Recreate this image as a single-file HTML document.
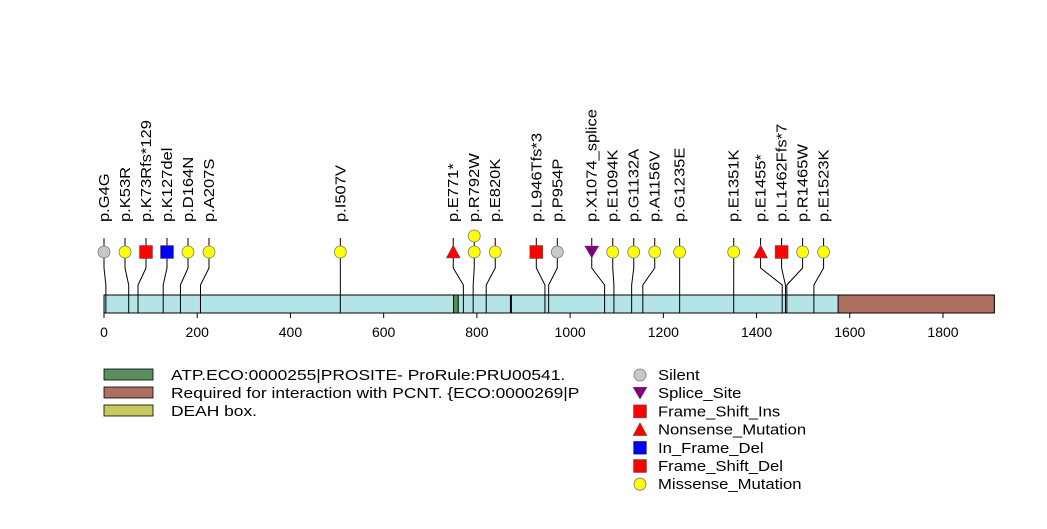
<!DOCTYPE html>
<html><head><meta charset="utf-8"><style>
body{margin:0;background:#fff}
svg text{font-family:"Liberation Sans",sans-serif}
</style></head><body>
<svg id="c" width="1047" height="524" viewBox="0 0 1047 524" xmlns="http://www.w3.org/2000/svg"></svg>
<script>
const positions=[4,53,73,127,164,207,507,771,792,820,946,954,1074,1094,1132,1156,1235,1351,1455,1462,1465,1523];
const labels=["p.G4G","p.K53R","p.K73Rfs*129","p.K127del","p.D164N","p.A207S","p.I507V","p.E771*","p.R792W","p.E820K","p.L946Tfs*3","p.P954P","p.X1074_splice","p.E1094K","p.G1132A","p.A1156V","p.G1235E","p.E1351K","p.E1455*","p.L1462Ffs*7","p.R1465W","p.E1523K"];
const types=["Silent","Missense_Mutation","Frame_Shift_Ins","In_Frame_Del","Missense_Mutation","Missense_Mutation","Missense_Mutation","Nonsense_Mutation","Missense_Mutation","Missense_Mutation","Frame_Shift_Ins","Silent","Splice_Site","Missense_Mutation","Missense_Mutation","Missense_Mutation","Missense_Mutation","Missense_Mutation","Nonsense_Mutation","Frame_Shift_Del","Missense_Mutation","Missense_Mutation"];
const counts=[1,1,1,1,1,1,1,1,2,1,1,1,1,1,1,1,1,1,1,1,1,1];
const proteinLength=1910;
const domainStarts=[750,1575];
const domainEnds=[760,1910];
const domainColors=["#5a8f5f","#b07060"];
const ticks=[0,200,400,600,800,1000,1200,1400,1600,1800];
const legendDomains=["ATP.ECO:0000255|PROSITE- ProRule:PRU00541.","Required for interaction with PCNT. {ECO:0000269|P","DEAH box."];
const legendDomainColors=["#5a8f5f","#b07060","#c8c860"];
const legendTypes=["Silent","Splice_Site","Frame_Shift_Ins","Nonsense_Mutation","In_Frame_Del","Frame_Shift_Del","Missense_Mutation"];

const NS="http://www.w3.org/2000/svg";
const svg=document.getElementById('c');
const x0=104,pxPerAA=(943-104)/1800;
const sx=a=>x0+a*pxPerAA;
function el(t,a,p){const e=document.createElementNS(NS,t);for(const k in a)e.setAttribute(k,a[k]);(p||svg).appendChild(e);return e;}
const colors={Silent:"#c8c8c8",Splice_Site:"#800080",Frame_Shift_Ins:"#ff0000",Nonsense_Mutation:"#ff0000",In_Frame_Del:"#0000ff",Frame_Shift_Del:"#ff0000",Missense_Mutation:"#ffff00"};
function marker(type,x,y,parent){
  let e;
  const c=colors[type];
  if(type==="Silent"||type==="Missense_Mutation") e=el('circle',{cx:x,cy:y,r:6,fill:c,stroke:"#777","stroke-width":0.8},parent);
  else if(type==="Splice_Site") e=el('polygon',{points:`${x-7},${y-6} ${x+7},${y-6} ${x},${y+6}`,fill:c,stroke:"#555","stroke-width":0.5},parent);
  else if(type==="Nonsense_Mutation") e=el('polygon',{points:`${x-7},${y+6} ${x+7},${y+6} ${x},${y-7}`,fill:c,stroke:"#555","stroke-width":0.5},parent);
  else e=el('rect',{x:x-6.5,y:y-6.5,width:13,height:13,fill:c,stroke:"#555","stroke-width":0.5},parent);
  return e;
}
const gap=21;
let clusters=positions.map((p,i)=>({idx:[i],center:sx(p)}));
function clampC(c){const start=c.center-(c.idx.length-1)*gap/2;if(start<x0)c.center+=x0-start;return c;}
clusters.forEach(clampC);
let changed=true;
while(changed){changed=false;
  for(let i=0;i<clusters.length-1;i++){
    const a=clusters[i],b=clusters[i+1];
    const aEnd=a.center+(a.idx.length-1)*gap/2, bStart=b.center-(b.idx.length-1)*gap/2;
    if(bStart-aEnd<gap-0.01){
      const idx=a.idx.concat(b.idx);
      const mean=idx.reduce((s,k)=>s+sx(positions[k]),0)/idx.length;
      clusters.splice(i,2,clampC({idx,center:mean}));changed=true;break;
    }
  }
}
const dispX=[];
clusters.forEach(c=>c.idx.forEach((k,j)=>{dispX[k]=c.center+(j-(c.idx.length-1)/2)*gap;}));

const barY=295,barH=18;
el('rect',{x:sx(0),y:barY,width:sx(proteinLength)-sx(0),height:barH,fill:"#b4e4e6",stroke:"#000","stroke-width":1,});
domainStarts.forEach((s,i)=>{
  const r=el('rect',{x:sx(s),y:barY,width:sx(domainEnds[i])-sx(s),height:barH,fill:domainColors[i],stroke:"#000","stroke-width":1});
  
  
});
el('line',{x1:sx(873),y1:barY,x2:sx(873),y2:barY+barH,stroke:"#000","stroke-width":2});

const mY=252;
positions.forEach((p,i)=>{
  const g=el('g',{});
  
  
  const px=sx(p),dx=dispX[i];
  el('polyline',{points:`${dx},${mY-14} ${dx},260 ${dx},268 ${px},285 ${px},${barY+barH}`,fill:"none",stroke:"#000","stroke-width":1},g);
  for(let k=counts[i]-1;k>=0;k--) marker(types[i],dx,mY-k*16,g);
  const t=el('text',{x:0,y:0,"font-size":14.5,transform:`translate(${dx+5},222) rotate(-90) scale(1.14,1)`,fill:"#000"},g);
  t.textContent=labels[i];
});

const ax=el('g',{});


el('line',{x1:sx(0),y1:barY+barH,x2:sx(1800),y2:barY+barH,stroke:"#000"},ax);
ticks.forEach(v=>{
  el('line',{x1:sx(v),y1:barY+barH,x2:sx(v),y2:barY+barH+5,stroke:"#000"},ax);
  const t=el('text',{x:sx(v),y:337,"text-anchor":"middle","font-size":14,fill:"#000"},ax);
  t.textContent=v;
});

legendDomains.forEach((d,i)=>{
  const g=el('g',{});
  
  
  el('rect',{x:104,y:369+i*18,width:49,height:11,fill:legendDomainColors[i],stroke:"#000","stroke-width":0.8},g);
  const t=el('text',{x:0,y:0,"font-size":14.5,fill:"#000",transform:`translate(171,${380+i*18}) scale(1.2,1)`},g);t.textContent=d;
});
legendTypes.forEach((d,i)=>{
  const g=el('g',{});
  
  
  marker(d,640,375+i*18.2,g);
  const t=el('text',{x:0,y:0,"font-size":14.5,fill:"#000",transform:`translate(658,${380+i*18.2}) scale(1.15,1)`},g);t.textContent=d;
});
</script>
</body></html>
